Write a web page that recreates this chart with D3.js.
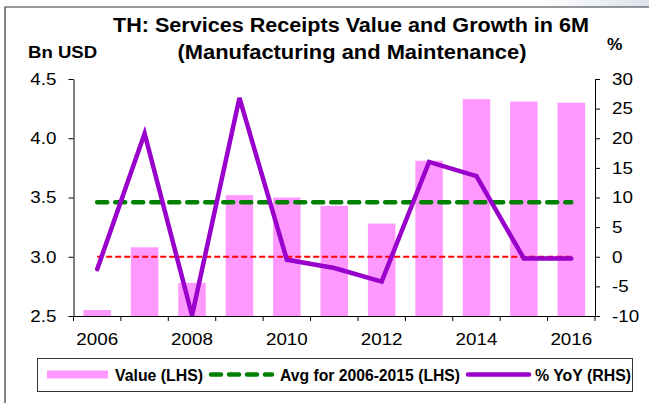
<!DOCTYPE html>
<html>
<head>
<meta charset="utf-8">
<script src="https://cdn.jsdelivr.net/npm/d3@7"></script>
<style>
  body { margin: 0; background: #fff; }
  svg { display: block; font-family: "Liberation Sans", Arial, sans-serif; }
</style>
</head>
<body>
<div id="chart"></div>
<script>
// data
var years = [2006, 2007, 2008, 2009, 2010, 2011, 2012, 2013, 2014, 2015, 2016];
var values = [2.55, 3.08, 2.78, 3.52, 3.50, 3.43, 3.28, 3.81, 4.33, 4.31, 4.30];   // Bn USD
var yoy = [-2.1, 20.8, -9.9, 26.8, -0.5, -1.9, -4.2, 16.0, 13.6, -0.3, -0.3];      // %
var avgValue = 3.46;     // avg for 2006-2015
var zeroLine = 0;        // 0% reference
var leftTicks = [2.5, 3.0, 3.5, 4.0, 4.5];
var rightTicks = [-10, -5, 0, 5, 10, 15, 20, 25, 30];
var yearLabels = [2006, 2008, 2010, 2012, 2014, 2016];

var W = 649, H = 403;
var plot = { left: 73.5, right: 595, top: 79, bottom: 316 };

var svg = d3.select("#chart").append("svg")
    .attr("width", W)
    .attr("height", H);

// faint shading in the top right corner
var defs = svg.append("defs");
var grad = defs.append("linearGradient").attr("id", "corner")
    .attr("x1", "0").attr("x2", "1").attr("y1", "0").attr("y2", "0");
grad.append("stop").attr("offset", "0").attr("stop-color", "#fff");
grad.append("stop").attr("offset", "1").attr("stop-color", "#dde3ec");
svg.append("rect").attr("x", 540).attr("y", 0).attr("width", 109).attr("height", 7)
    .attr("fill", "url(#corner)");

// outer frame (top and left edges)
svg.append("path")
    .attr("d", "M5,403 V7 H649")
    .attr("fill", "none")
    .attr("stroke", "#333")
    .attr("stroke-width", 1.2);

// scales
var x = d3.scaleBand()
    .domain(years)
    .range([plot.left, plot.right])
    .padding(0);

var yL = d3.scaleLinear().domain([2.5, 4.5]).range([plot.bottom, plot.top]);
var yR = d3.scaleLinear().domain([-10, 30]).range([plot.bottom, plot.top]);

var bw = x.bandwidth();
function cx(d) { return x(d) + bw / 2; }

// bars
svg.append("g").selectAll("rect")
    .data(years)
    .enter().append("rect")
    .attr("x", function(d) { return x(d) + bw * 0.21; })
    .attr("width", bw * 0.58)
    .attr("y", function(d, i) { return yL(values[i]); })
    .attr("height", function(d, i) { return yL(2.5) - yL(values[i]); })
    .attr("fill", "#ff99ff");

// 0% red dashed line
svg.append("line")
    .attr("x1", cx(years[0])).attr("x2", cx(years[years.length - 1]))
    .attr("y1", yR(zeroLine)).attr("y2", yR(zeroLine))
    .attr("stroke", "#ff0000")
    .attr("stroke-width", 2)
    .attr("stroke-dasharray", "6,3");

// average green dashed line
svg.append("line")
    .attr("x1", cx(years[0])).attr("x2", cx(years[years.length - 1]))
    .attr("y1", yL(avgValue)).attr("y2", yL(avgValue))
    .attr("stroke", "#008000")
    .attr("stroke-width", 4.5)
    .attr("stroke-linecap", "round")
    .attr("stroke-dasharray", "10,8");

// % YoY line
var line = d3.line()
    .x(function(d, i) { return cx(years[i]); })
    .y(function(d) { return yR(d); });

svg.append("path")
    .datum(yoy)
    .attr("d", line)
    .attr("fill", "none")
    .attr("stroke", "#9900cc")
    .attr("stroke-width", 4.5)
    .attr("stroke-linejoin", "miter")
    .attr("stroke-linecap", "round");

// axes
var leftAxis = svg.append("g")
    .attr("transform", "translate(" + plot.left + ",0)")
    .call(d3.axisLeft(yL).tickValues(leftTicks).tickFormat(d3.format(".1f"))
        .tickSize(5).tickSizeOuter(0).tickPadding(12));

var rightAxis = svg.append("g")
    .attr("transform", "translate(" + plot.right + ",0)")
    .call(d3.axisRight(yR).tickValues(rightTicks)
        .tickFormat(function(d) { return String(d); })
        .tickSize(5).tickSizeOuter(0).tickPadding(12));

var bottomAxis = svg.append("g")
    .attr("transform", "translate(0," + plot.bottom + ")")
    .call(d3.axisBottom(x).tickValues(yearLabels).tickSize(0).tickSizeOuter(0).tickPadding(17.5));

// category separator ticks on the x axis
var sep = years.map(function(d) { return x(d); }).concat([x(years[years.length - 1]) + bw]);
bottomAxis.selectAll("line.sep")
    .data(sep)
    .enter().append("line")
    .attr("class", "sep")
    .attr("x1", function(d) { return d; })
    .attr("x2", function(d) { return d; })
    .attr("y1", 0)
    .attr("y2", 5)
    .attr("stroke", "#000");

// tick labels: slightly widened glyphs like the original
[leftAxis, rightAxis, bottomAxis].forEach(function(a) {
    a.selectAll(".tick text")
        .style("font-size", "16.5px")
        .style("font-family", "Liberation Sans, Arial, sans-serif")
        .attr("fill", "#000")
        .each(function() {
            var t = d3.select(this);
            var tx = +t.attr("x") || 0, ty = +t.attr("y") || 0;
            t.attr("x", 0).attr("y", 0)
             .attr("transform", "translate(" + tx + "," + ty + ") scale(1.14,1)");
        });
    a.select(".domain").attr("stroke", "#000");
});

// titles
svg.append("text")
    .attr("x", 351).attr("y", 32)
    .attr("text-anchor", "middle")
    .attr("textLength", 476).attr("lengthAdjust", "spacingAndGlyphs")
    .style("font-size", "19.5px").style("font-weight", "bold")
    .text("TH: Services Receipts Value and Growth in 6M");

svg.append("text")
    .attr("x", 352).attr("y", 59)
    .attr("text-anchor", "middle")
    .attr("textLength", 349).attr("lengthAdjust", "spacingAndGlyphs")
    .style("font-size", "19.5px").style("font-weight", "bold")
    .text("(Manufacturing and Maintenance)");

// axis unit labels, widened glyphs like the original
svg.append("text")
    .attr("transform", "translate(28,58.3) scale(1.14,1)")
    .style("font-size", "16.3px").style("font-weight", "bold")
    .text("Bn USD");

svg.append("text")
    .attr("transform", "translate(607,50) scale(1.05,1)")
    .style("font-size", "16.5px").style("font-weight", "bold")
    .text("%");

// legend
var lg = svg.append("g");
lg.append("rect")
    .attr("x", 37.5).attr("y", 358.5).attr("width", 595).attr("height", 33)
    .attr("fill", "#fff").attr("stroke", "#333").attr("stroke-width", 1);

var legY = 374.5;
lg.append("rect")
    .attr("x", 47).attr("y", legY - 4).attr("width", 61).attr("height", 8)
    .attr("fill", "#ff99ff");
lg.append("line")
    .attr("x1", 211).attr("x2", 272).attr("y1", legY).attr("y2", legY)
    .attr("stroke", "#008000").attr("stroke-width", 4.5)
    .attr("stroke-linecap", "round").attr("stroke-dasharray", "10,8");
lg.append("line")
    .attr("x1", 468).attr("x2", 529).attr("y1", legY).attr("y2", legY)
    .attr("stroke", "#9900cc").attr("stroke-width", 4.5)
    .attr("stroke-linecap", "round");

var legendItems = [
    { label: "Value (LHS)", x: 115, w: 88 },
    { label: "Avg for 2006-2015 (LHS)", x: 280, w: 180 },
    { label: "% YoY (RHS)", x: 535, w: 96 }
];
lg.selectAll("text.leg")
    .data(legendItems)
    .enter().append("text")
    .attr("class", "leg")
    .attr("x", function(d) { return d.x; })
    .attr("y", 380.5)
    .attr("textLength", function(d) { return d.w; })
    .attr("lengthAdjust", "spacingAndGlyphs")
    .style("font-size", "16px").style("font-weight", "bold")
    .text(function(d) { return d.label; });
</script>
</body>
</html>
